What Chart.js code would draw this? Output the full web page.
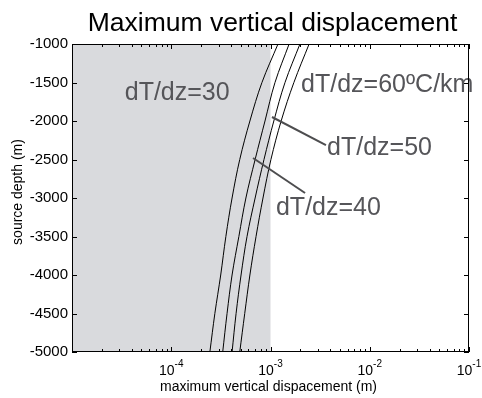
<!DOCTYPE html>
<html>
<head>
<meta charset="utf-8">
<title>Maximum vertical displacement</title>
<script src="https://cdn.jsdelivr.net/npm/chart.js@4/dist/chart.umd.min.js"></script>
<style>
  html, body { margin: 0; padding: 0; background: #fff; }
  canvas { display: block; }
</style>
</head>
<body>
<canvas id="dispChart" width="482" height="398"></canvas>
<script>
'use strict';

// source depths (m) and max vertical displacement (m) per thermal gradient
const depths = [-1000, -1500, -2000, -2500, -3000, -3500, -4000, -4500, -5000];
const disp30 = [1.19e-3, 8.2e-4, 6.2e-4, 4.9e-4, 4.1e-4, 3.55e-4, 3.15e-4, 2.75e-4, 2.45e-4];
const disp40 = [1.54e-3, 1.11e-3, 8.8e-4, 7.0e-4, 5.65e-4, 4.8e-4, 4.1e-4, 3.65e-4, 3.3e-4];
const disp50 = [1.98e-3, 1.40e-3, 1.08e-3, 8.6e-4, 7.0e-4, 5.8e-4, 5.05e-4, 4.5e-4, 4.1e-4];
const disp60 = [2.45e-3, 1.72e-3, 1.28e-3, 1.01e-3, 8.4e-4, 7.15e-4, 6.2e-4, 5.5e-4, 4.9e-4];

// axes
const xDecades = [-5, -4, -3, -2, -1];
const xLabelExps = [-4, -3, -2, -1];
const yTicks = [-1000, -1500, -2000, -2500, -3000, -3500, -4000, -4500, -5000];
const shadeLimit = 1e-3;   // below this displacement is not detectable

// text labels (data coordinates of the text baseline start)
const noteTexts = ['dT/dz=30', 'dT/dz=40', 'dT/dz=50', 'dT/dz=60\u00baC/km'];
const noteX = [3.4e-5, 1.135e-3, 3.71e-3, 2.03e-3];
const noteY = [-1727, -3221, -2442, -1623];

// leader lines: from a point on the curve to its label
const leaderFrom = [[6.67e-4, -2481], [1.035e-3, -1948]];
const leaderTo = [[2.23e-3, -2935], [3.62e-3, -2312]];

const toXY = (xs) => xs.map((v, i) => ({ x: v, y: depths[i] }));

const FONT = '"Liberation Sans", Arial, sans-serif';

// ─────────────────────────────────────────────
// shaded band + MATLAB style frame, ticks, labels
// ─────────────────────────────────────────────
const shadePlugin = {
  id: 'shade',
  beforeDatasetsDraw(chart) {
    const { ctx, chartArea: a, scales } = chart;
    const xr = scales.x.getPixelForValue(shadeLimit);
    ctx.save();
    ctx.fillStyle = '#d9dadd';
    ctx.fillRect(a.left, a.top, xr - a.left, a.bottom - a.top);
    ctx.restore();
  },
};

const framePlugin = {
  id: 'frame',
  afterDatasetsDraw(chart) {
    const { ctx, chartArea: a, scales } = chart;
    const xs = scales.x, ys = scales.y;
    ctx.save();

    // annotations
    ctx.strokeStyle = '#4d4d4f';
    ctx.lineWidth = 2;
    leaderFrom.forEach((p, i) => {
      ctx.beginPath();
      ctx.moveTo(xs.getPixelForValue(p[0]), ys.getPixelForValue(p[1]));
      ctx.lineTo(xs.getPixelForValue(leaderTo[i][0]), ys.getPixelForValue(leaderTo[i][1]));
      ctx.stroke();
    });
    ctx.fillStyle = '#555559';
    ctx.font = '25px ' + FONT;
    ctx.textAlign = 'left';
    ctx.textBaseline = 'alphabetic';
    noteTexts.forEach((t, i) => {
      ctx.fillText(t, xs.getPixelForValue(noteX[i]), ys.getPixelForValue(noteY[i]));
    });

    // box
    ctx.strokeStyle = '#000';
    ctx.lineWidth = 1;
    ctx.strokeRect(a.left + 0.5, a.top + 0.5, a.right - a.left - 1, a.bottom - a.top - 1);

    // inward ticks
    ctx.beginPath();
    const major = 5, minor = 3;
    xDecades.forEach((e) => {
      for (let m = 1; m <= 9; m++) {
        const v = m * Math.pow(10, e);
        if (v > xs.max * 1.0001) break;
        const px = Math.round(xs.getPixelForValue(v)) + 0.5;
        const len = m === 1 ? major : minor;
        ctx.moveTo(px, a.bottom); ctx.lineTo(px, a.bottom - len);
        ctx.moveTo(px, a.top); ctx.lineTo(px, a.top + len);
      }
    });
    yTicks.forEach((v) => {
      const py = Math.round(ys.getPixelForValue(v)) + 0.5;
      ctx.moveTo(a.left, py); ctx.lineTo(a.left + major, py);
      ctx.moveTo(a.right, py); ctx.lineTo(a.right - major, py);
    });
    ctx.stroke();

    // y tick labels
    ctx.fillStyle = '#000';
    ctx.font = '15px ' + FONT;
    ctx.textAlign = 'right';
    ctx.textBaseline = 'middle';
    yTicks.forEach((v) => ctx.fillText(String(v), a.left - 4, ys.getPixelForValue(v)));

    // x tick labels: 10 with superscript exponent
    ctx.textAlign = 'left';
    ctx.textBaseline = 'alphabetic';
    xLabelExps.forEach((e) => {
      const px = xs.getPixelForValue(Math.pow(10, e));
      ctx.font = '14px ' + FONT;
      const wBase = ctx.measureText('10').width;
      ctx.font = '10px ' + FONT;
      const wExp = ctx.measureText(String(e)).width;
      const x0 = px - (wBase + wExp) / 2;
      ctx.font = '14px ' + FONT;
      ctx.fillText('10', x0, a.bottom + 23);
      ctx.font = '10px ' + FONT;
      ctx.fillText(String(e), x0 + wBase, a.bottom + 15);
    });

    // axis titles
    ctx.font = '14px ' + FONT;
    ctx.textAlign = 'center';
    ctx.fillText('maximum vertical dispacement (m)', (a.left + a.right) / 2 - 2, a.bottom + 39);
    ctx.translate(22, (a.top + a.bottom) / 2 - 6);
    ctx.rotate(-Math.PI / 2);
    ctx.fillText('source depth (m)', 0, 0);
    ctx.restore();

    // chart title
    ctx.save();
    ctx.fillStyle = '#000';
    ctx.font = '26.5px ' + FONT;
    ctx.textAlign = 'center';
    ctx.fillText('Maximum vertical displacement', (a.left + a.right) / 2 + 2, a.top - 13);
    ctx.restore();
  },
};

const curve = (label, data) => ({
  label,
  data: toXY(data),
  showLine: true,
  borderColor: '#000',
  borderWidth: 1,
  pointRadius: 0,
  tension: 0.35,
  fill: false,
});

new Chart(document.getElementById('dispChart'), {
  type: 'scatter',
  data: {
    datasets: [
      curve('30', disp30),
      curve('40', disp40),
      curve('50', disp50),
      curve('60', disp60),
    ],
  },
  options: {
    responsive: false,
    animation: false,
    layout: { padding: { left: 72, right: 13, top: 44, bottom: 46 } },
    plugins: {
      legend: { display: false },
      tooltip: { enabled: false },
      title: { display: false },
    },
    scales: {
      x: { type: 'logarithmic', min: 1e-5, max: 1e-1, display: false },
      y: { type: 'linear', min: -5000, max: -1000, display: false },
    },
  },
  plugins: [shadePlugin, framePlugin],
});
</script>
</body>
</html>
